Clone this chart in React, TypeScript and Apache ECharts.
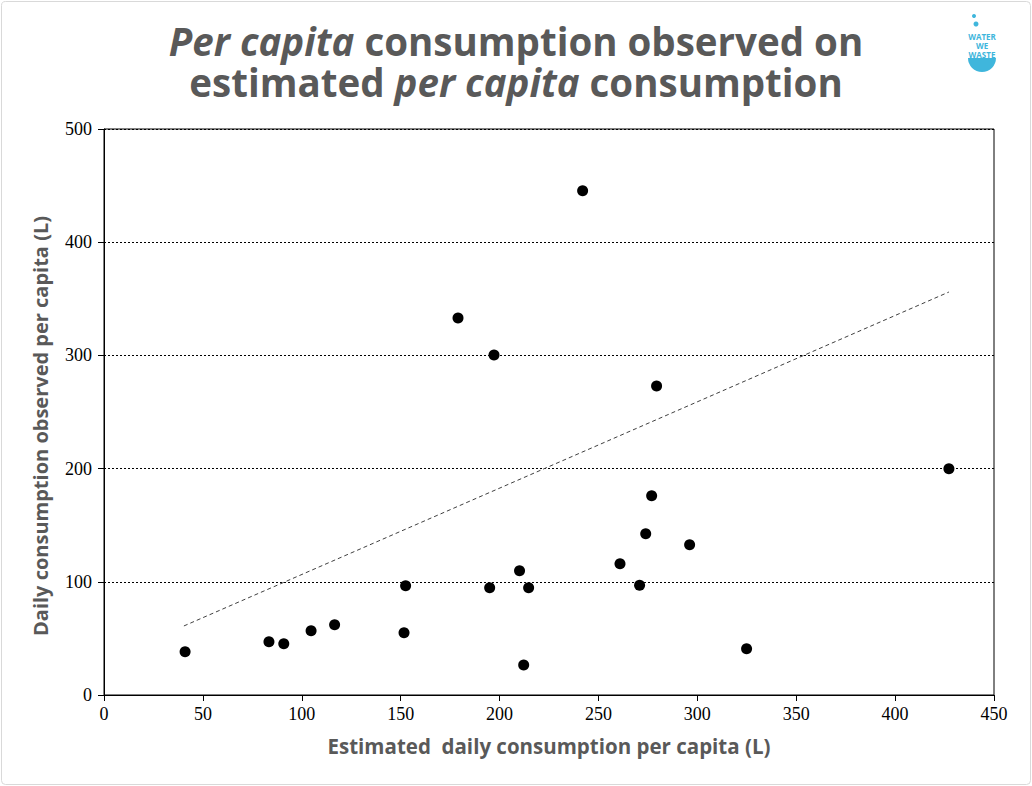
import React, { useEffect, useRef } from "react";
import * as echarts from "echarts";

const estimated = [41.0, 83.4, 90.9, 104.7, 116.6, 152.5, 151.7, 179.0, 195.0, 197.2, 210.1, 214.7, 212.2, 242.0, 279.4, 276.9, 273.9, 296.1, 260.9, 270.8, 324.9, 427.2];
const observed = [38.3, 47.1, 45.3, 56.8, 62.1, 96.6, 55.0, 333.0, 94.8, 300.4, 109.8, 94.8, 26.5, 445.5, 273.0, 176.1, 142.5, 132.8, 116.0, 96.9, 40.9, 199.9];
const trendX = [40.4, 427.2];
const trendY = [61.0, 356.0];
const xTicks = [0, 450, 50];
const yTicks = [0, 500, 100];

const titleLine1 = "{i|Per capita} consumption observed on";
const titleLine2 = "estimated {i|per capita} consumption";
const xName = "Estimated  daily consumption per capita (L)";
const yName = "Daily consumption observed per capita (L)";

export default function App() {
  const ref = useRef<HTMLDivElement>(null);
  useEffect(() => {
    if (!ref.current) return;
    const chart = echarts.init(ref.current, null, { renderer: "svg" });
    const titleFont = "'Open Sans', 'Noto Sans', sans-serif";
    const tickFont = "'Liberation Serif', 'Times New Roman', serif";
    const titleStyle = {
      fontFamily: titleFont,
      fontWeight: 700,
      fontSize: 38.5,
      color: "#595959",
      lineHeight: 40,
      rich: {
        i: {
          fontFamily: titleFont,
          fontWeight: 700,
          fontStyle: "italic",
          fontSize: 38.5,
          color: "#595959",
          lineHeight: 40,
        },
      },
    };
    chart.setOption({
      animation: false,
      backgroundColor: "#ffffff",
      title: [
        { text: titleLine1, left: "center", top: 21, padding: 0, textStyle: titleStyle },
        { text: titleLine2, left: "center", top: 62, padding: 0, textStyle: titleStyle },
      ],
      grid: {
        left: 104,
        right: 38,
        top: 129,
        bottom: 91,
        show: true,
        borderColor: "#000000",
        borderWidth: 1,
      },
      xAxis: {
        type: "value",
        min: xTicks[0],
        max: xTicks[1],
        interval: xTicks[2],
        name: xName,
        nameLocation: "middle",
        nameGap: 40,
        nameTextStyle: { fontFamily: titleFont, fontWeight: 700, fontSize: 20.5, color: "#595959" },
        axisLine: { show: true, lineStyle: { color: "#000000", width: 1 } },
        axisTick: { show: true, length: 6, lineStyle: { color: "#000000" } },
        axisLabel: { fontFamily: tickFont, fontSize: 18, color: "#000000", margin: 10 },
        splitLine: { show: false },
      },
      yAxis: {
        type: "value",
        min: yTicks[0],
        max: yTicks[1],
        interval: yTicks[2],
        axisLine: { show: true, lineStyle: { color: "#000000", width: 1 } },
        axisTick: { show: true, length: 6, lineStyle: { color: "#000000" } },
        axisLabel: { fontFamily: tickFont, fontSize: 18, color: "#000000", margin: 12 },
        splitLine: { show: true, lineStyle: { color: "#000000", type: [2, 2], width: 1 } },
      },
      series: [
        {
          type: "scatter",
          data: estimated.map((x, i) => [x, observed[i]]),
          symbol: "circle",
          symbolSize: 11,
          itemStyle: { color: "#000000", opacity: 1 },
          z: 3,
        },
        {
          type: "line",
          data: trendX.map((x, i) => [x, trendY[i]]),
          showSymbol: false,
          symbol: "none",
          lineStyle: { color: "#404040", width: 1, type: [4, 3] },
          z: 2,
        },
      ],
      graphic: [
        {
          type: "rect",
          shape: { x: 1.5, y: 1.5, width: 1029, height: 783, r: 4 },
          style: { fill: "none", stroke: "#d9d9d9", lineWidth: 1 },
          silent: true,
        },
        {
          type: "text",
          x: 40,
          y: 426,
          rotation: Math.PI / 2,
          style: {
            text: yName,
            align: "center",
            verticalAlign: "middle",
            fontFamily: titleFont,
            fontWeight: 700,
            fontSize: 20,
            fill: "#595959",
          },
        },
        {
          type: "group",
          left: 968,
          top: 14,
          children: [
            { type: "circle", shape: { cx: 14, cy: 6, r: 2 }, style: { fill: "#3fb6dc" } },
            { type: "circle", shape: { cx: 16, cy: 14, r: 2.5 }, style: { fill: "#3fb6dc" } },
            { type: "text", style: { text: "WATER", x: 22, y: 22, align: "center", fontSize: 8, fontWeight: 700, fill: "#3fb6dc", fontFamily: titleFont } },
            { type: "text", style: { text: "WE", x: 22, y: 31, align: "center", fontSize: 8, fontWeight: 700, fill: "#3fb6dc", fontFamily: titleFont } },
            { type: "text", style: { text: "WASTE", x: 22, y: 40, align: "center", fontSize: 8, fontWeight: 700, fill: "#3fb6dc", fontFamily: titleFont } },
            { type: "sector", shape: { cx: 22, cy: 48, r0: 0, r: 14, startAngle: 0, endAngle: Math.PI }, style: { fill: "#3fb6dc" } },
          ],
        },
      ],
    });
    return () => chart.dispose();
  }, []);
  return (
    <div
      ref={ref}
      style={{ position: "absolute", left: 0, top: 0, width: 1032, height: 786 }}
    />
  );
}
